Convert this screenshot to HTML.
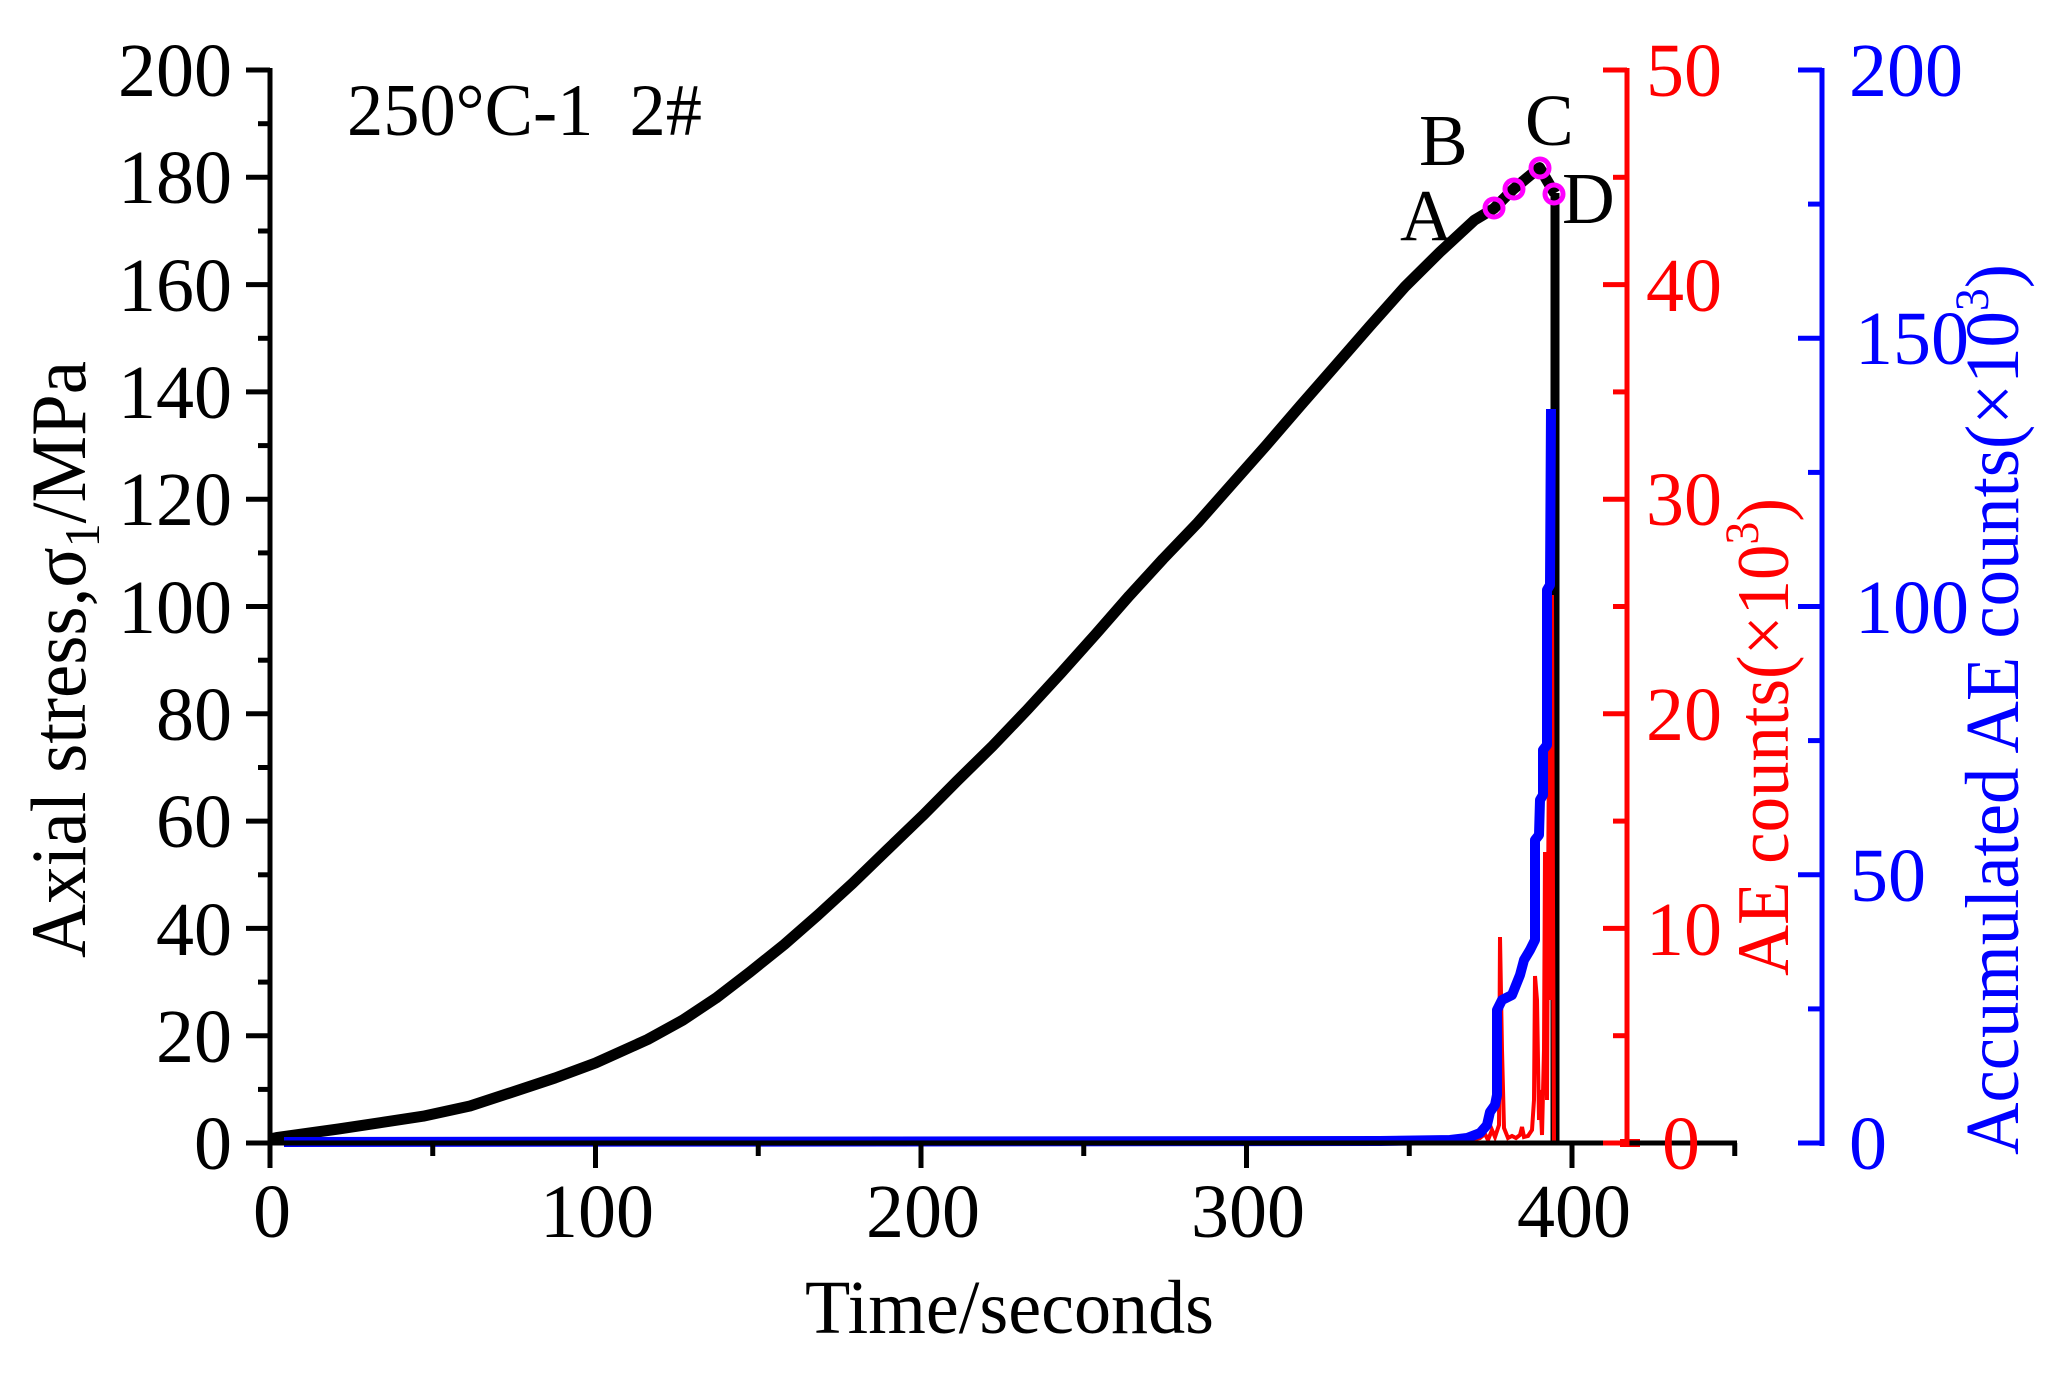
<!DOCTYPE html>
<html><head><meta charset="utf-8"><style>
html,body{margin:0;padding:0;background:#fff;}
svg{display:block;}
text{font-family:"Liberation Serif","Times New Roman",serif;}
</style></head><body>
<svg width="2059" height="1375" viewBox="0 0 2059 1375" xmlns="http://www.w3.org/2000/svg">
<rect width="2059" height="1375" fill="#fff"/>

<!-- black stress curve -->
<polyline fill="none" stroke="#000" stroke-width="11" stroke-linejoin="round" points="270,1139 276.5,1137.6 338.4,1129 423,1116.2 470,1106 510.9,1092.6 555,1078 595.5,1063 647.6,1039.5 683,1020 716,998.1 750,972 784.3,944.5 818,915 852.6,883.3 887,850 922.6,815.7 957,781 992.6,746 1027,710 1061,673 1095,635 1129.3,595.8 1163,559 1197.7,522.8 1232,484 1266,445.6 1301,405 1336,365 1370,326 1405,286.7 1440,252 1474.4,220.2 1494,208.4 1513.4,189.1 1539.5,167.6 1554.7,193.4"/>
<line x1="1555" y1="193" x2="1555" y2="1143" stroke="#000" stroke-width="9"/>

<!-- red AE counts -->
<polyline fill="none" stroke="#f00" stroke-width="4" points="1440,1143 1460,1142 1470,1140 1480,1138 1485,1134 1488,1140 1492,1130 1495,1137 1499,1125 1500,937 1502,1050 1504,1128 1508,1138 1512,1136 1516,1138 1520,1135 1522,1127 1524,1137 1528,1136 1532,1130 1534,1100 1535,976 1537,1000 1539,1120 1540,1090 1542,1135 1544,1050 1545,852 1547,1100 1548,900 1549,747 1550,1000 1551,700 1552,595 1553,900 1554,1143"/>
<line x1="1620" y1="1143" x2="1640" y2="1143" stroke="#f00" stroke-width="8"/>

<!-- blue accumulated -->
<polyline fill="none" stroke="#00f" stroke-width="10" stroke-linejoin="round" points="284,1142 1380,1141 1450,1140 1467,1138 1480,1133 1487,1125 1490,1112 1495,1105 1497,1095 1497,1010 1502,1000 1512,995 1516,985 1520,975 1524,960 1530,950 1535,940 1535,840 1539,835 1540,800 1543,795 1543,750 1547,745 1547,590 1550,585 1551,409"/>

<!-- circles -->
<g fill="none" stroke="#f0f" stroke-width="5">
<circle cx="1494" cy="208" r="9"/>
<circle cx="1514" cy="189" r="9"/>
<circle cx="1540" cy="168" r="9"/>
<circle cx="1554" cy="194" r="9"/>
</g>

<!-- left axis -->
<g stroke="#000" stroke-width="5">
<line x1="270" y1="68" x2="270" y2="1146"/>
<line x1="246" y1="1143" x2="270" y2="1143"/>
<line x1="258" y1="1089.4" x2="270" y2="1089.4"/>
<line x1="246" y1="1035.7" x2="270" y2="1035.7"/>
<line x1="258" y1="982.1" x2="270" y2="982.1"/>
<line x1="246" y1="928.4" x2="270" y2="928.4"/>
<line x1="258" y1="874.8" x2="270" y2="874.8"/>
<line x1="246" y1="821.1" x2="270" y2="821.1"/>
<line x1="258" y1="767.5" x2="270" y2="767.5"/>
<line x1="246" y1="713.8" x2="270" y2="713.8"/>
<line x1="258" y1="660.2" x2="270" y2="660.2"/>
<line x1="246" y1="606.5" x2="270" y2="606.5"/>
<line x1="258" y1="552.9" x2="270" y2="552.9"/>
<line x1="246" y1="499.2" x2="270" y2="499.2"/>
<line x1="258" y1="445.6" x2="270" y2="445.6"/>
<line x1="246" y1="391.9" x2="270" y2="391.9"/>
<line x1="258" y1="338.3" x2="270" y2="338.3"/>
<line x1="246" y1="284.6" x2="270" y2="284.6"/>
<line x1="258" y1="231" x2="270" y2="231"/>
<line x1="246" y1="177.3" x2="270" y2="177.3"/>
<line x1="258" y1="123.7" x2="270" y2="123.7"/>
<line x1="246" y1="70" x2="270" y2="70"/>
</g>
<g font-size="76" text-anchor="end" fill="#000">
<text x="232" y="1169">0</text>
<text x="232" y="1062">20</text>
<text x="232" y="955">40</text>
<text x="232" y="847">60</text>
<text x="232" y="740">80</text>
<text x="232" y="633">100</text>
<text x="232" y="525">120</text>
<text x="232" y="418">140</text>
<text x="232" y="311">160</text>
<text x="232" y="203">180</text>
<text x="232" y="96">200</text>
</g>

<!-- x axis -->
<g stroke="#000" stroke-width="5">
<line x1="250" y1="1143" x2="1737" y2="1143"/>
<line x1="270" y1="1143" x2="270" y2="1168"/>
<line x1="432.75" y1="1143" x2="432.75" y2="1156"/>
<line x1="595.5" y1="1143" x2="595.5" y2="1168"/>
<line x1="758.25" y1="1143" x2="758.25" y2="1156"/>
<line x1="921" y1="1143" x2="921" y2="1168"/>
<line x1="1083.75" y1="1143" x2="1083.75" y2="1156"/>
<line x1="1246.5" y1="1143" x2="1246.5" y2="1168"/>
<line x1="1409.25" y1="1143" x2="1409.25" y2="1156"/>
<line x1="1572" y1="1143" x2="1572" y2="1168"/>
<line x1="1734.75" y1="1143" x2="1734.75" y2="1156"/>
</g>
<g font-size="76" text-anchor="middle" fill="#000">
<text x="272" y="1237">0</text>
<text x="597" y="1237">100</text>
<text x="923" y="1237">200</text>
<text x="1248" y="1237">300</text>
<text x="1574" y="1237">400</text>
</g>
<text x="805" y="1333" font-size="76" textLength="409" lengthAdjust="spacingAndGlyphs">Time/seconds</text>

<!-- red axis -->
<g stroke="#f00" stroke-width="5">
<line x1="1627" y1="68" x2="1627" y2="1146"/>
<line x1="1603" y1="1143" x2="1627" y2="1143"/>
<line x1="1613" y1="1035.7" x2="1627" y2="1035.7"/>
<line x1="1603" y1="928.4" x2="1627" y2="928.4"/>
<line x1="1613" y1="821.1" x2="1627" y2="821.1"/>
<line x1="1603" y1="713.8" x2="1627" y2="713.8"/>
<line x1="1613" y1="606.5" x2="1627" y2="606.5"/>
<line x1="1603" y1="499.2" x2="1627" y2="499.2"/>
<line x1="1613" y1="391.9" x2="1627" y2="391.9"/>
<line x1="1603" y1="284.6" x2="1627" y2="284.6"/>
<line x1="1613" y1="177.3" x2="1627" y2="177.3"/>
<line x1="1603" y1="70" x2="1627" y2="70"/>
</g>
<g font-size="76" text-anchor="end" fill="#f00">
<text x="1700" y="1169">0</text>
<text x="1722" y="955">10</text>
<text x="1722" y="740">20</text>
<text x="1722" y="525">30</text>
<text x="1722" y="311">40</text>
<text x="1722" y="96">50</text>
</g>
<text transform="translate(1788,976) rotate(-90)" font-size="74" fill="#f00" textLength="478" lengthAdjust="spacingAndGlyphs">AE counts(×10<tspan font-size="48" dy="-30">3</tspan><tspan dy="30">)</tspan></text>

<!-- blue axis -->
<g stroke="#00f" stroke-width="5">
<line x1="1822" y1="68" x2="1822" y2="1146"/>
<line x1="1798" y1="1143" x2="1822" y2="1143"/>
<line x1="1808" y1="1008.9" x2="1822" y2="1008.9"/>
<line x1="1798" y1="874.8" x2="1822" y2="874.8"/>
<line x1="1808" y1="740.6" x2="1822" y2="740.6"/>
<line x1="1798" y1="606.5" x2="1822" y2="606.5"/>
<line x1="1808" y1="472.4" x2="1822" y2="472.4"/>
<line x1="1798" y1="338.3" x2="1822" y2="338.3"/>
<line x1="1808" y1="204.1" x2="1822" y2="204.1"/>
<line x1="1798" y1="70" x2="1822" y2="70"/>
</g>
<g font-size="76" fill="#00f">
<text x="1849" y="1169">0</text>
<text x="1850" y="901">50</text>
<text x="1855" y="633">100</text>
<text x="1855" y="364">150</text>
<text x="1849" y="96">200</text>
</g>
<text transform="translate(2018,1155) rotate(-90)" font-size="76" fill="#00f" textLength="891" lengthAdjust="spacingAndGlyphs">Accumulated AE counts(×10<tspan font-size="48" dy="-30">3</tspan><tspan dy="30">)</tspan></text>

<!-- left y label -->
<text transform="translate(85,958) rotate(-90)" font-size="78" fill="#000" textLength="597" lengthAdjust="spacingAndGlyphs">Axial stress,σ<tspan font-size="50" dy="14">1</tspan><tspan dy="-14">/MPa</tspan></text>

<!-- annotations -->
<text x="347" y="135" font-size="74" fill="#000" textLength="355" lengthAdjust="spacingAndGlyphs">250°C-1&#160;&#160;2#</text>
<g font-size="73" fill="#000">
<text x="1400" y="240">A</text>
<text x="1419" y="165">B</text>
<text x="1525" y="145">C</text>
<text x="1562" y="223">D</text>
</g>
</svg>
</body></html>
